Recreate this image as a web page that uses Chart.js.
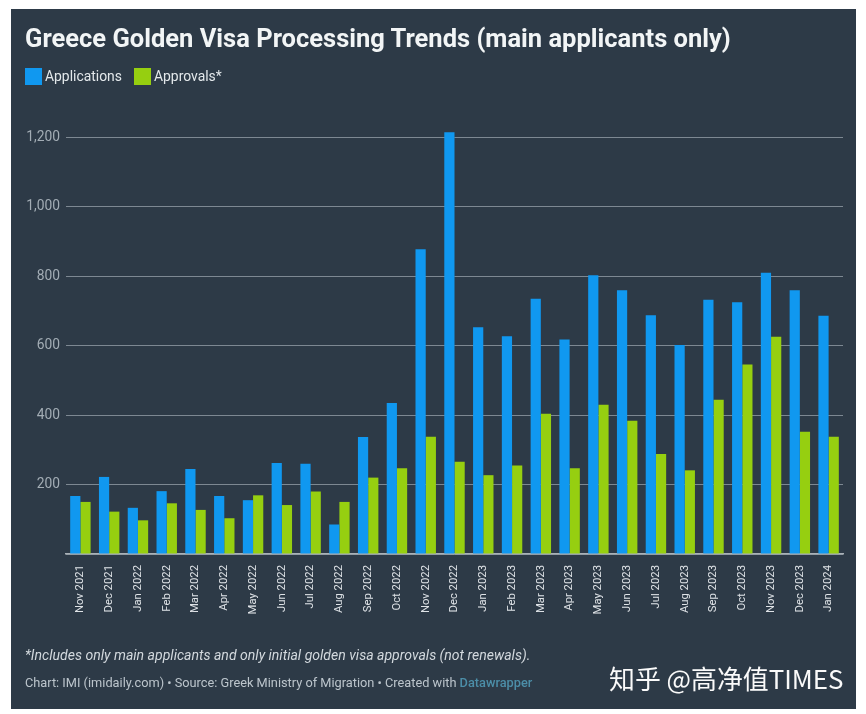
<!DOCTYPE html>
<html>
<head>
<meta charset="utf-8">
<script src="https://cdn.jsdelivr.net/npm/chart.js@4"></script>
<style>
  html, body { margin: 0; padding: 0; background: #fff; }
  #wrap { position: relative; width: 866px; height: 714px; overflow: hidden; font-family: Roboto, sans-serif; }
  #panel { position: absolute; left: 11px; top: 9px; width: 845px; height: 700px; background: #2d3a47; }
  #chart { position: absolute; left: 0; top: 0; }
  .txt { position: absolute; white-space: nowrap; }
  #title { left: 25px; top: 23px; font-size: 25.5px; font-weight: 700; color: #f2f5f6; }
  .swatch { position: absolute; top: 68px; width: 17px; height: 17px; }
  .leg { top: 68px; font-size: 13.9px; color: #e3e8eb; }
  #note { left: 25px; top: 647px; font-size: 14.06px; font-style: italic; color: #d3d9de; }
  #source { left: 25px; top: 675px; font-size: 12.78px; color: #bcc5cc; }
  #source b { color: #4c8ea8; font-weight: 500; }
  #mark { left: 609px; top: 659px; font-family: "Noto Sans CJK SC", sans-serif; font-size: 25.9px; color: #fafafa; }
</style>
</head>
<body>
<div id="wrap">
  <div id="panel"></div>
  <canvas id="chart" width="866" height="714"></canvas>
  <div class="txt" id="title">Greece Golden Visa Processing Trends (main applicants only)</div>
  <div class="swatch" style="left:25px;background:#1098f0"></div>
  <div class="txt leg" style="left:45px">Applications</div>
  <div class="swatch" style="left:134px;background:#96cf10"></div>
  <div class="txt leg" style="left:154px">Approvals*</div>
  <div class="txt" id="note">*Includes only main applicants and only initial golden visa approvals (not renewals).</div>
  <div class="txt" id="source">Chart: IMI (imidaily.com) • Source: Greek Ministry of Migration • Created with <b>Datawrapper</b></div>
  <div class="txt" id="mark">知乎 @高净值TIMES</div>
</div>
<script>
const months = ['Nov 2021', 'Dec 2021', 'Jan 2022', 'Feb 2022', 'Mar 2022', 'Apr 2022', 'May 2022', 'Jun 2022', 'Jul 2022',
    'Aug 2022', 'Sep 2022', 'Oct 2022', 'Nov 2022', 'Dec 2022', 'Jan 2023', 'Feb 2023', 'Mar 2023', 'Apr 2023',
    'May 2023', 'Jun 2023', 'Jul 2023', 'Aug 2023', 'Sep 2023', 'Oct 2023', 'Nov 2023', 'Dec 2023', 'Jan 2024'];
const applications = [167, 222, 133, 181, 245, 167, 155, 262, 260, 85, 337, 435, 878, 1215, 653, 627, 735, 618, 803, 760, 688, 602, 732, 725, 810, 760, 686];
const approvals = [150, 122, 97, 146, 127, 103, 169, 141, 180, 150, 220, 247, 338, 266, 227, 255, 404, 247, 430, 384, 288, 241, 444, 546, 626, 352, 338];

new Chart(document.getElementById('chart').getContext('2d'), {
    type: 'bar',
    data: {
        labels: months,
        datasets: [
            { label: 'Applications', data: applications, backgroundColor: '#1098f0', borderWidth: 0 },
            { label: 'Approvals*', data: approvals, backgroundColor: '#96cf10', borderWidth: 0 }
        ]
    },
    options: {
        responsive: false,
        animation: false,
        layout: { padding: { top: 120, right: 23, left: 0, bottom: 0 } },
        plugins: { legend: { display: false }, tooltip: { enabled: false } },
        datasets: { bar: { barPercentage: 1, categoryPercentage: 0.71 } },
        scales: {
            x: {
                afterFit: (s) => { s.height = 160; s.paddingLeft = 0; s.paddingRight = 0; },
                grid: { display: false },
                border: { color: '#a9b1b7', width: 1.5 },
                ticks: { autoSkip: false, minRotation: 90, maxRotation: 90, padding: 3, color: '#dfe3e7', font: { family: 'Roboto', size: 11.3 } }
            },
            y: {
                min: 0,
                max: 1250,
                afterFit: (s) => { s.width = 66; },
                grid: { color: '#7d8892', lineWidth: 1, drawTicks: false },
                border: { display: false },
                ticks: {
                    stepSize: 200,
                    includeBounds: false,
                    padding: 6,
                    color: '#a3adb5',
                    font: { family: 'Roboto', size: 13.8 },
                    // the zero line has no label in the original
                    callback: (v) => v === 0 ? '' : v.toLocaleString('en-US')
                }
            }
        }
    }
});
</script>
</body>
</html>
